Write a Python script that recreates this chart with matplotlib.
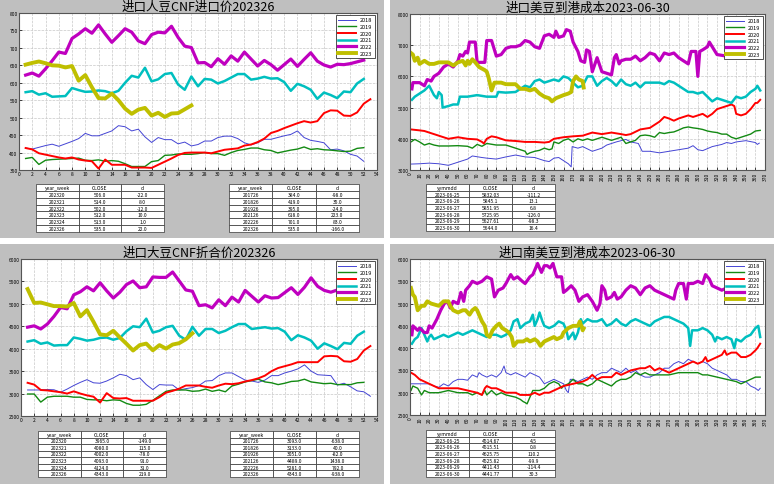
import matplotlib
matplotlib.use('Agg')
import matplotlib.pyplot as plt
from matplotlib.patches import Rectangle

plt.rcParams['font.family'] = ['Noto Sans CJK SC', 'DejaVu Sans']

W, H = 774, 485
years = ['2018', '2019', '2020', '2021', '2022', '2023']
colors = ['#4444d4', '#138a13', '#ff0000', '#00bfbf', '#bf00bf', '#bfbf00']
widths = [0.7, 1.0, 1.4, 1.8, 2.3, 2.8]

# ---- weekly: imported soybean CNF price (top left)
cnf_2018 = [413, 410, 415, 420, 424, 418, 425, 432, 440, 455, 448, 448, 455, 462, 477, 474, 462, 467,
            445, 429, 443, 437, 437, 425, 430, 419, 423, 433, 433, 443, 447, 447, 440, 428, 422, 428,
            438, 438, 443, 448, 452, 462, 443, 435, 432, 428, 408, 410, 405, 395, 390, 375]
cnf_2019 = [383, 386, 366, 378, 380, 381, 382, 383, 384, 378, 377, 379, 375, 377, 375, 368, 360, 360,
            360, 374, 377, 392, 393, 396, 395, 395, 397, 400, 397, 397, 392, 400, 406, 409, 413, 413,
            408, 406, 399, 403, 407, 410, 416, 409, 411, 408, 407, 405, 403, 404, 412, 414]
cnf_2020 = [413, 409, 398, 394, 390, 386, 383, 386, 380, 377, 375, 354, 380, 365, 365, 365, 357, 357,
            357, 356, 365, 374, 383, 393, 399, 400, 400, 400, 398, 403, 408, 410, 412, 420, 423, 430,
            440, 456, 462, 470, 477, 484, 490, 486, 490, 513, 521, 520, 506, 505, 515, 540, 553]
cnf_2021 = [573, 576, 566, 570, 560, 561, 562, 585, 579, 574, 575, 578, 576, 570, 577, 600, 620, 615,
            643, 604, 610, 625, 628, 595, 580, 618, 590, 611, 609, 598, 605, 615, 625, 625, 609, 612,
            617, 612, 613, 602, 577, 597, 590, 580, 554, 572, 565, 556, 575, 573, 598, 611]
cnf_2022 = [622, 628, 619, 640, 663, 688, 684, 727, 740, 755, 742, 766, 740, 716, 735, 755, 745, 720,
            712, 738, 745, 743, 762, 730, 705, 701, 657, 658, 646, 669, 653, 677, 662, 688, 668, 648,
            664, 652, 636, 652, 668, 647, 667, 686, 662, 651, 645, 653, 652, 655, 660, 665]
cnf_2023 = [652, 657, 661, 656, 650, 649, 644, 648, 606, 622, 587, 556, 555, 569, 550, 526, 511, 523,
            528, 506, 514, 502, 512, 513, 524, 535]

# ---- weekly: soybean CNF converted price (bottom left)
cnv_2018 = [3080, 3080, 3080, 3090, 3085, 3030, 3100, 3180, 3250, 3310, 3240, 3230, 3280, 3350, 3430,
            3400, 3310, 3350, 3200, 3090, 3200, 3190, 3190, 3080, 3110, 3133, 3180, 3280, 3290, 3400,
            3460, 3460, 3380, 3300, 3280, 3250, 3300, 3400, 3400, 3460, 3500, 3550, 3640, 3500, 3420,
            3410, 3400, 3190, 3230, 3150, 3060, 3040, 2940]
cnv_2019 = [2990, 2990, 2810, 2920, 2940, 2940, 2940, 2920, 2920, 2870, 2860, 2860, 2840, 2860, 2850,
            2780, 2740, 2740, 2760, 2850, 2950, 3050, 3080, 3080, 3080, 3051, 3060, 3100, 3050, 3080,
            3040, 3170, 3210, 3260, 3290, 3320, 3260, 3240, 3200, 3230, 3270, 3280, 3320, 3260, 3240,
            3220, 3230, 3200, 3200, 3200, 3240, 3250]
cnv_2020 = [3240, 3200, 3080, 3070, 3050, 3030, 3000, 3050, 3000, 2960, 2930, 2800, 3010, 2900, 2890,
            2900, 2840, 2840, 2840, 2840, 2920, 3020, 3060, 3110, 3180, 3180, 3180, 3150, 3130, 3180,
            3220, 3210, 3230, 3270, 3300, 3340, 3400, 3500, 3570, 3610, 3650, 3700, 3700, 3700, 3700,
            3830, 3840, 3830, 3720, 3710, 3770, 3960, 4060]
cnv_2021 = [4160, 4190, 4110, 4140, 4070, 4080, 4080, 4250, 4220, 4180, 4200, 4240, 4250, 4200, 4240,
            4390, 4500, 4480, 4670, 4360, 4400, 4480, 4510, 4290, 4200, 4489, 4290, 4440, 4440, 4350,
            4400, 4480, 4550, 4550, 4440, 4460, 4480, 4450, 4460, 4380, 4190, 4300, 4250, 4180, 4000,
            4120, 4060, 3990, 4130, 4110, 4290, 4380]
cnv_2022 = [4480, 4510, 4440, 4550, 4720, 4920, 4890, 5200, 5270, 5380, 5290, 5470, 5290, 5130, 5260,
            5430, 5510, 5360, 5380, 5600, 5590, 5590, 5710, 5510, 5310, 5281, 4960, 4980, 4910, 5090,
            4960, 5150, 5040, 5300, 5170, 5040, 5180, 5130, 5140, 5250, 5360, 5210, 5370, 5580, 5390,
            5300, 5260, 5310, 5300, 5320, 5340, 5360]
cnv_2023 = [5330, 5020, 5030, 4990, 4950, 4950, 4940, 5020, 4720, 4860, 4600, 4320, 4300, 4400, 4250,
            4110, 3960, 4080, 4114, 3965, 4080, 4002, 4093, 4124, 4210, 4343]

# ---- daily: US soybean landed cost (top right), day of year / value
us_2018_day = [1, 10, 20, 30, 40, 55, 60, 65, 75, 80, 90, 100, 110, 120, 130, 140, 145, 150, 155, 165,
               168, 169, 175, 180, 190, 195, 200, 205, 215, 225, 230, 238, 242, 250, 260, 270, 280,
               290, 295, 300, 305, 315, 325, 330, 335, 340, 350, 360, 362, 364]
us_2018_val = [3190, 3200, 3220, 3200, 3150, 3300, 3350, 3450, 3400, 3380, 3350, 3420, 3480, 3420,
               3400, 3300, 3270, 3380, 3400, 3200, 3100, 3750, 3700, 3750, 3600, 3650, 3700, 3800,
               3900, 3980, 3900, 3850, 3600, 3600, 3550, 3600, 3650, 3700, 3780, 3650, 3620, 3750,
               3820, 3880, 3850, 3900, 3940, 3880, 3820, 3860]
us_2019_day = [1, 5, 10, 15, 20, 25, 30, 40, 50, 60, 65, 70, 75, 80, 90, 100, 110, 115, 120, 122, 125,
               130, 135, 140, 145, 148, 150, 155, 160, 165, 170, 175, 180, 185, 190, 200, 205, 210, 215,
               220, 225, 230, 235, 240, 245, 250, 255, 260, 265, 270, 275, 280, 285, 290, 295, 300, 305,
               310, 315, 320, 325, 330, 335, 340, 345, 350, 355, 360, 365]
us_2019_val = [3900, 3980, 3900, 3800, 3850, 3800, 3770, 3770, 3780, 3760, 3700, 3820, 3760, 3850,
               3800, 3800, 3700, 3650, 3600, 3500, 3550, 3600, 3630, 3700, 3650, 3680, 3900, 3850,
               3950, 4000, 3900, 4000, 3950, 4000, 3950, 4050, 4000, 3950, 4000, 4050, 3850, 3900,
               3950, 4100, 4120, 4100, 4050, 4200, 4170, 4200, 4220, 4280, 4350, 4380, 4350, 4330,
               4300, 4250, 4220, 4200, 4150, 4150, 4050, 4000, 4050, 4100, 4150, 4250, 4270]
us_2020_day = [1, 10, 15, 20, 30, 35, 40, 50, 60, 70, 75, 77, 80, 85, 90, 95, 100, 110, 120, 130, 140,
               145, 150, 160, 170, 180, 185, 190, 200, 210, 220, 225, 230, 240, 250, 255, 260, 265, 270,
               275, 280, 285, 290, 295, 300, 305, 310, 315, 320, 325, 330, 335, 338, 340, 345, 350, 355,
               360, 362, 365]
us_2020_val = [4300, 4270, 4250, 4200, 4100, 4050, 4000, 4050, 4000, 3980, 3900, 3850, 4000, 4080,
               4050, 4000, 3950, 3930, 3900, 3900, 3880, 3900, 4000, 4050, 4080, 4100, 4150, 4200,
               4150, 4200, 4150, 4120, 4150, 4300, 4350, 4450, 4550, 4700, 4650, 4580, 4650, 4700,
               4750, 4700, 4750, 4800, 4700, 4800, 4950, 5000, 5050, 5100, 5050, 4800, 4750, 4800,
               4950, 5150, 5150, 5250]
us_2021_day = [2, 5, 10, 15, 20, 25, 28, 30, 33, 34, 40, 45, 50, 52, 60, 70, 80, 90, 92, 100, 110, 115,
               120, 125, 130, 135, 140, 145, 150, 155, 160, 165, 170, 175, 180, 185, 190, 195, 200, 205,
               210, 215, 220, 225, 230, 235, 240, 245, 250, 260, 265, 270, 275, 280, 285, 290, 295, 300,
               305, 310, 315, 320, 325, 330, 335, 340, 345, 350, 355, 360, 362, 365]
us_2021_val = [5250, 5350, 5450, 5550, 5700, 5400, 5300, 5500, 5400, 5000, 5050, 5100, 5100, 5350,
               5350, 5400, 5350, 5350, 5500, 5480, 5500, 5600, 5700, 5650, 5850, 5900, 5800, 5850,
               5900, 5850, 6000, 5950, 5800, 5650, 5700, 6000, 6000, 5700, 5850, 5950, 5850, 5700,
               5900, 5750, 5700, 5800, 5650, 5800, 5800, 5800, 5750, 5850, 5800, 5700, 5600, 5500,
               5500, 5450, 5500, 5350, 5200, 5300, 5250, 5200, 5150, 5350, 5300, 5350, 5500, 5600,
               5700, 5550]
us_2022_day = [2, 3, 10, 15, 18, 22, 25, 30, 35, 40, 45, 50, 52, 55, 58, 60, 62, 68, 70, 78, 80, 85, 88,
               90, 95, 100, 105, 110, 115, 120, 125, 130, 135, 140, 145, 150, 152, 155, 160, 163, 167,
               170, 175, 178, 182, 184, 187, 190, 195, 200, 205, 210, 213, 215, 218, 220, 225, 230, 235,
               240, 245, 250, 255, 260, 265, 270, 275, 280, 285, 290, 293, 298, 300, 302, 305, 310, 312,
               315, 320, 330, 335, 350, 365]
us_2022_val = [5600, 5800, 5800, 5700, 5900, 5850, 6000, 6100, 6300, 6400, 6300, 6500, 6700, 6650,
               6800, 6750, 7100, 7100, 6450, 6450, 7150, 7150, 6850, 6650, 6700, 6900, 6950, 6950,
               7000, 7150, 7100, 6950, 6900, 7300, 7350, 7250, 7450, 7250, 7300, 7500, 7450, 7100,
               6800, 6500, 6450, 6850, 6800, 6150, 6600, 6150, 6100, 6050, 6600, 6700, 6400, 6500,
               6550, 6550, 6650, 6500, 6600, 6750, 6700, 6500, 6750, 6700, 6750, 6600, 6500, 6400,
               6800, 6800, 6000, 6800, 6850, 6950, 7100, 6950, 6700, 6650, 6700, 6700, 6700]
us_2023_day = [1, 3, 5, 8, 10, 15, 20, 25, 30, 40, 45, 50, 55, 58, 60, 62, 65, 68, 72, 78, 80, 82, 85,
               88, 95, 100, 110, 115, 120, 125, 130, 135, 140, 145, 148, 152, 160, 165, 168, 170, 173,
               176, 180, 181]
us_2023_val = [6750, 6700, 6500, 6600, 6400, 6500, 6400, 6400, 6450, 6450, 6350, 6450, 6500, 6350,
               6500, 6400, 6550, 6450, 6300, 6200, 6150, 5950, 5550, 5800, 5800, 5750, 5750, 5600,
               5600, 5550, 5600, 5450, 5350, 5300, 5200, 5300, 5400, 5450, 5500, 5850, 6000, 5900,
               5850, 5644]

# ---- daily: South American soybean landed cost (bottom right)
sa_2018_day = [1, 10, 20, 25, 30, 35, 40, 45, 50, 55, 60, 65, 70, 72, 75, 80, 85, 90, 95, 98, 100, 105,
               110, 115, 120, 125, 130, 135, 140, 145, 150, 155, 160, 163, 165, 167, 170, 175, 180, 185,
               190, 195, 200, 205, 210, 215, 220, 225, 230, 235, 240, 245, 250, 255, 260, 265, 270, 275,
               280, 285, 290, 295, 300, 305, 310, 315, 320, 325, 330, 335, 340, 345, 350, 355, 360, 363,
               365]
sa_2018_val = [3200, 3200, 3200, 3150, 3120, 3200, 3150, 3250, 3300, 3300, 3280, 3400, 3350, 3450,
               3400, 3350, 3400, 3350, 3450, 3600, 3450, 3400, 3450, 3400, 3350, 3450, 3400, 3350,
               3200, 3250, 3300, 3250, 3200, 3050, 3000, 3300, 3300, 3250, 3300, 3350, 3300, 3400,
               3450, 3450, 3550, 3500, 3450, 3550, 3450, 3500, 3400, 3350, 3350, 3400, 3450, 3550,
               3550, 3650, 3700, 3650, 3750, 3700, 3650, 3700, 3650, 3550, 3500, 3450, 3400, 3300,
               3300, 3250, 3250, 3150, 3100, 3050, 3100]
sa_2019_day = [1, 3, 8, 12, 15, 20, 30, 40, 50, 60, 65, 70, 75, 78, 80, 85, 90, 95, 100, 110, 115, 118,
               120, 122, 125, 128, 135, 140, 145, 150, 155, 158, 160, 165, 170, 175, 180, 185, 190, 195,
               200, 205, 210, 215, 220, 225, 230, 235, 240, 245, 250, 260, 270, 280, 290, 300, 305, 310,
               320, 330, 340, 345, 350, 355, 360, 365]
sa_2019_val = [3050, 3150, 3100, 2950, 3050, 3000, 3000, 3050, 3000, 3000, 2950, 3000, 2950, 3050,
               2950, 3050, 2950, 3000, 2950, 2900, 2850, 2800, 2780, 2750, 2900, 3050, 3050, 3100,
               3200, 3250, 3200, 3100, 3150, 3200, 3300, 3200, 3200, 3150, 3200, 3300, 3250, 3200,
               3150, 3250, 3300, 3300, 3350, 3450, 3400, 3450, 3400, 3400, 3400, 3450, 3450, 3450,
               3400, 3400, 3350, 3300, 3250, 3200, 3250, 3300, 3350, 3350]
sa_2020_day = [1, 5, 10, 15, 20, 25, 30, 40, 50, 60, 70, 75, 78, 80, 85, 90, 100, 110, 115, 120, 125,
               130, 135, 140, 145, 150, 155, 160, 170, 180, 185, 190, 195, 200, 210, 215, 220, 225, 230,
               240, 245, 250, 255, 260, 265, 270, 275, 280, 285, 290, 295, 300, 305, 308, 310, 315, 320,
               325, 328, 330, 335, 340, 345, 350, 355, 360, 362, 365]
sa_2020_val = [3450, 3400, 3300, 3250, 3200, 3150, 3100, 3100, 3100, 3050, 3000, 2950, 3100, 3150,
               3100, 3100, 3000, 3000, 2950, 2950, 2950, 3000, 2950, 3000, 3000, 3050, 3100, 3150,
               3200, 3250, 3300, 3400, 3300, 3350, 3350, 3450, 3400, 3450, 3500, 3550, 3550, 3600,
               3500, 3550, 3500, 3450, 3500, 3550, 3600, 3650, 3700, 3650, 3700, 3800, 3700, 3750,
               3800, 3850, 3950, 3850, 3900, 3900, 3800, 3800, 3850, 3950, 4000, 4100]
sa_2021_day = [2, 5, 8, 10, 12, 15, 18, 20, 22, 25, 30, 35, 40, 45, 50, 55, 60, 65, 70, 75, 80, 85, 90,
               95, 100, 105, 108, 112, 115, 120, 125, 128, 130, 133, 135, 138, 140, 145, 150, 155, 160,
               163, 165, 170, 172, 175, 178, 180, 185, 190, 195, 200, 205, 210, 215, 220, 225, 230, 235,
               240, 245, 250, 255, 260, 265, 270, 275, 280, 285, 290, 292, 294, 300, 305, 310, 315, 318,
               320, 325, 330, 335, 338, 340, 345, 350, 355, 360, 363, 365]
sa_2021_val = [4100, 4200, 4250, 4350, 4450, 4300, 4150, 4250, 4300, 4200, 4250, 4300, 4250, 4300,
               4350, 4300, 4350, 4400, 4350, 4300, 4250, 4300, 4300, 4250, 4300, 4400, 4600, 4650,
               4450, 4550, 4600, 4750, 4500, 4650, 4800, 4600, 4500, 4450, 4500, 4600, 4550, 4400,
               4200, 4350, 4200, 4350, 4650, 4550, 4650, 4600, 4600, 4650, 4500, 4550, 4650, 4550,
               4500, 4600, 4650, 4600, 4550, 4500, 4600, 4650, 4700, 4700, 4650, 4600, 4550, 4450,
               4050, 4400, 4400, 4450, 4400, 4300, 4150, 4250, 4200, 4250, 4200, 4000, 4200, 4150,
               4250, 4300, 4450, 4500, 4250]
sa_2022_day = [2, 3, 8, 10, 15, 18, 20, 23, 28, 32, 37, 40, 42, 45, 50, 53, 56, 58, 62, 65, 70, 75, 80,
               85, 88, 92, 97, 100, 105, 108, 112, 117, 120, 125, 128, 130, 133, 137, 140, 143, 146, 149,
               153, 158, 160, 163, 168, 172, 176, 180, 185, 190, 195, 198, 200, 203, 205, 210, 213, 216,
               220, 225, 230, 235, 240, 245, 250, 255, 260, 265, 270, 275, 277, 280, 285, 288, 290, 295,
               300, 305, 308, 312, 315, 320, 325, 330, 335, 350, 365]
sa_2022_val = [4300, 4500, 4400, 4450, 4350, 4350, 4500, 4450, 4650, 4850, 5050, 5000, 4900, 5050,
               5000, 5250, 5050, 5300, 5400, 5500, 5450, 5500, 5600, 5550, 5150, 5300, 5350, 5450,
               5650, 5550, 5600, 5500, 5450, 5600, 5650, 5750, 5900, 5700, 5850, 5850, 5800, 5900,
               5600, 5600, 5250, 5300, 5400, 5300, 5050, 5150, 5200, 5050, 4850, 5000, 5400, 5300,
               5100, 5150, 5250, 5100, 5150, 5300, 5400, 5350, 5200, 5350, 5400, 5300, 5250, 5200,
               5150, 5100, 5300, 5450, 5450, 5100, 5450, 5450, 5500, 5450, 5650, 5550, 5400, 5350,
               5300, 5350, 5400, 5400, 5400]
sa_2023_day = [1, 3, 5, 8, 12, 15, 18, 22, 30, 35, 40, 42, 45, 50, 55, 58, 62, 65, 68, 70, 72, 75, 78,
               80, 83, 86, 90, 93, 96, 100, 103, 106, 108, 112, 118, 122, 125, 130, 133, 136, 140, 145,
               150, 153, 158, 160, 165, 170, 175, 177, 180, 181]
sa_2023_val = [5350, 5200, 5150, 4850, 4950, 4950, 5050, 5000, 4950, 5050, 5050, 4950, 4850, 4800,
               4850, 4850, 4750, 4850, 4900, 4850, 4750, 4600, 4500, 4300, 4250, 4400, 4500, 4550,
               4450, 4400, 4350, 4250, 4050, 4150, 4150, 4200, 4150, 4200, 4150, 4050, 4150, 4200,
               4250, 4200, 4250, 4350, 4450, 4500, 4500, 4600, 4400, 4442]

# ---- tables
tbl_cols_week = ['year_week', 'CLOSE', 'd']
tbl_cols_day = ['yymmdd', 'CLOSE', 'd']
cnf_recent = [['202320', '506.0', '-22.0'], ['202321', '514.0', '8.0'], ['202322', '502.0', '-12.0'],
              ['202323', '512.0', '10.0'], ['202324', '513.0', '1.0'], ['202326', '535.0', '22.0']]
cnf_yoy = [['201726', '384.0', '-98.0'], ['201826', '419.0', '35.0'], ['201926', '395.0', '-24.0'],
           ['202126', '618.0', '223.0'], ['202226', '701.0', '83.0'], ['202326', '535.0', '-166.0']]
cnv_recent = [['202320', '3965.0', '-149.0'], ['202321', '4080.0', '115.0'], ['202322', '4002.0', '-78.0'],
              ['202323', '4093.0', '91.0'], ['202324', '4124.0', '31.0'], ['202326', '4343.0', '219.0']]
cnv_yoy = [['201726', '3093.0', '-638.0'], ['201826', '3133.0', '40.0'], ['201926', '3051.0', '-82.0'],
           ['202126', '4489.0', '1438.0'], ['202226', '5281.0', '792.0'], ['202326', '4343.0', '-938.0']]
us_recent = [['2023-06-25', '5832.03', '-111.2'], ['2023-06-26', '5845.1', '13.1'],
             ['2023-06-27', '5851.95', '6.8'], ['2023-06-28', '5725.95', '-126.0'],
             ['2023-06-29', '5627.61', '-98.3'], ['2023-06-30', '5644.0', '16.4']]
sa_recent = [['2023-06-25', '4514.67', '4.5'], ['2023-06-26', '4515.51', '0.8'],
             ['2023-06-27', '4625.75', '110.2'], ['2023-06-28', '4525.82', '-99.9'],
             ['2023-06-29', '4411.43', '-114.4'], ['2023-06-30', '4441.77', '30.3']]


def px_rect(x0, y0, x1, y1):
    return [x0 / W, 1 - y1 / H, (x1 - x0) / W, (y1 - y0) / H]


fig = plt.figure(figsize=(W / 100, H / 100), dpi=100, facecolor='white')

# gray panel backgrounds
for x0, y0, x1, y1 in [(0, 0, 384, 239), (390, 0, 774, 239), (0, 245, 384, 485), (390, 245, 774, 485)]:
    r = px_rect(x0, y0, x1, y1)
    fig.add_artist(Rectangle((r[0], r[1]), r[2], r[3], transform=fig.transFigure,
                             facecolor='#bfbfbf', edgecolor='none', zorder=0))


def style_axes(ax, title, ylim, yticks, xlim, xticks, rotate):
    ax.set_facecolor('white')
    ax.set_title(title, fontsize=9, pad=1)
    ax.set_ylim(*ylim)
    ax.set_yticks(yticks)
    ax.set_xlim(*xlim)
    ax.set_xticks(xticks)
    ax.tick_params(labelsize=3.5, length=2, width=0.5, direction='in', pad=1)
    if rotate:
        ax.tick_params(axis='x', labelrotation=90)
    ax.grid(True, color='#c8c8c8', linestyle='--', linewidth=0.5)
    for s in ax.spines.values():
        s.set_color('#555555')
        s.set_linewidth(0.8)
    leg = ax.legend(loc='upper right', fontsize=4, handlelength=3.2, borderpad=0.4,
                    labelspacing=0.3, handletextpad=0.8, fancybox=False, framealpha=1,
                    borderaxespad=0.4)
    leg.get_frame().set_edgecolor('#333333')
    leg.get_frame().set_linewidth(0.6)


def add_table(rect, cols, rows):
    tax = fig.add_axes(px_rect(*rect))
    tax.axis('off')
    t = tax.table(cellText=rows, colLabels=cols, cellLoc='center', bbox=[0, 0, 1, 1])
    t.auto_set_font_size(False)
    t.set_fontsize(3.6)
    for cell in t.get_celld().values():
        cell.set_linewidth(0.5)
        cell.set_edgecolor('#333333')


# top left
ax = fig.add_axes(px_rect(19, 14, 377, 171))
for yr, c, lw, vals in zip(years, colors, widths, [cnf_2018, cnf_2019, cnf_2020, cnf_2021, cnf_2022, cnf_2023]):
    ax.plot(range(1, len(vals) + 1), vals, color=c, lw=lw, label=yr)
style_axes(ax, '进口人豆CNF进口价202326', (350, 800), range(350, 801, 50), (0, 54), range(0, 55, 2), False)
add_table((36, 185, 164, 233), tbl_cols_week, cnf_recent)
add_table((229, 185, 359, 233), tbl_cols_week, cnf_yoy)

# top right
ax = fig.add_axes(px_rect(410, 15, 765, 171))
us_series = [(us_2018_day, us_2018_val), (us_2019_day, us_2019_val), (us_2020_day, us_2020_val),
             (us_2021_day, us_2021_val), (us_2022_day, us_2022_val), (us_2023_day, us_2023_val)]
for yr, c, lw, (d, v) in zip(years, colors, widths, us_series):
    ax.plot(d, v, color=c, lw=lw, label=yr)
style_axes(ax, '进口美豆到港成本2023-06-30', (3000, 8000), range(3000, 8001, 1000), (0, 370), range(0, 371, 10), True)
add_table((426, 185, 555, 232), tbl_cols_day, us_recent)

# bottom left
ax = fig.add_axes(px_rect(21, 260, 377, 417))
for yr, c, lw, vals in zip(years, colors, widths, [cnv_2018, cnv_2019, cnv_2020, cnv_2021, cnv_2022, cnv_2023]):
    ax.plot(range(1, len(vals) + 1), vals, color=c, lw=lw, label=yr)
style_axes(ax, '进口大豆CNF折合价202326', (2500, 6000), range(2500, 6001, 500), (0, 54), range(0, 55, 2), False)
add_table((38, 432, 166, 478), tbl_cols_week, cnv_recent)
add_table((230, 432, 359, 478), tbl_cols_week, cnv_yoy)

# bottom right
ax = fig.add_axes(px_rect(410, 260, 765, 416))
sa_series = [(sa_2018_day, sa_2018_val), (sa_2019_day, sa_2019_val), (sa_2020_day, sa_2020_val),
             (sa_2021_day, sa_2021_val), (sa_2022_day, sa_2022_val), (sa_2023_day, sa_2023_val)]
for yr, c, lw, (d, v) in zip(years, colors, widths, sa_series):
    ax.plot(d, v, color=c, lw=lw, label=yr)
style_axes(ax, '进口南美豆到港成本2023-06-30', (2500, 6000), range(2500, 6001, 500), (0, 370), range(0, 371, 10), True)
add_table((426, 431, 555, 478), tbl_cols_day, sa_recent)

fig.savefig('out.png', dpi=100, facecolor='white')
